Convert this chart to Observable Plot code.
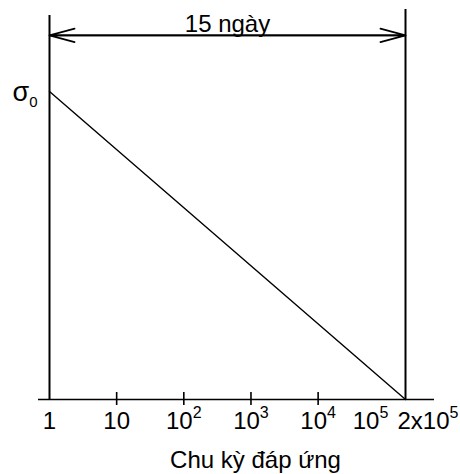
<!DOCTYPE html>
<html><head><meta charset="utf-8">
<script src="https://cdn.jsdelivr.net/npm/d3@7"></script>
<script src="https://cdn.jsdelivr.net/npm/@observablehq/plot@0.6"></script>
<style>body{margin:0;background:#fff} svg{display:block}</style>
</head><body><div id="chart"></div>
<script>
// ---- data ----
const periodBounds = [1, 2e5];          // cycles: start and end of the 15-day period
const periodLabel = "15 ngày";
const stressValues = [1, 0];            // σ0 at 1 cycle, 0 at 2x10^5 cycles
const stressLabel = "σ_0";
const tickValues = [1, 10, 1e2, 1e3, 1e4, 1e5, 2e5];
const tickLabels = ["1", "10", "10^2", "10^3", "10^4", "10^5", "2x10^5"];
const xTitle = "Chu kỳ đáp ứng";

// ---- layout ----
const yTop = 1.266;       // frame top in σ0 units
const arrowLevel = 1.182; // dimension arrow level
const F = "'Liberation Sans', Arial, Helvetica, sans-serif";
const FS = 24;
const SW = 1.6;
const headPx = 26;

const [x0, x1] = periodBounds;
const lineData = periodBounds.map((x, i) => ({x, y: stressValues[i]}));
const ticks = tickValues.map((v, i) => ({v, label: tickLabels[i]}));
const innerTicks = ticks.slice(1, -2);
const arrows = [{a: x0, b: x1, y: arrowLevel}, {a: x1, b: x0, y: arrowLevel}];

const plot = Plot.plot({
  width: 460, height: 474,
  marginLeft: 49, marginRight: 55, marginTop: 9, marginBottom: 75,
  x: {type: "log", domain: periodBounds, axis: null},
  y: {domain: [0, yTop], axis: null},
  style: {fontFamily: F, background: "#fff", color: "#000"},
  marks: [
    Plot.ruleY([0], {stroke: "#000", strokeWidth: SW, insetLeft: -11, insetRight: -29}),
    Plot.ruleX(innerTicks, {x: "v", y1: 0, y2: 0, insetTop: -7, insetBottom: -6, stroke: "#000", strokeWidth: SW}),
    Plot.ruleX([x0], {y1: 0, y2: yTop, insetBottom: -6, stroke: "#000", strokeWidth: 2}),
    Plot.ruleX([x1], {y1: 0, y2: yTop, stroke: "#000", strokeWidth: 2}),
    Plot.line(lineData, {x: "x", y: "y", stroke: "#000", strokeWidth: 1.4}),
    Plot.arrow(arrows, {x1: "a", x2: "b", y1: "y", y2: "y", stroke: "#000", strokeWidth: SW,
      headAngle: 30, headLength: headPx * 1.5 / SW}),
    Plot.text([{x: Math.sqrt(x0 * x1), y: arrowLevel}], {x: "x", y: "y", text: () => periodLabel,
      lineAnchor: "bottom", dy: -3, fontSize: FS, fill: "#000"}),
    Plot.text([{x: x0, y: stressValues[0]}], {x: "x", y: "y", text: () => stressLabel,
      textAnchor: "end", lineAnchor: "bottom", dx: -12, dy: 10, fontSize: 27, fill: "#000"}),
    Plot.text(ticks.slice(0, 5), {x: "v", y: () => 0, text: "label", lineAnchor: "bottom", dy: 29, fontSize: FS, fill: "#000"}),
    Plot.text(ticks.slice(5, 6), {x: "v", y: () => 0, text: "label", textAnchor: "end", lineAnchor: "bottom", dx: 3, dy: 29, fontSize: FS, fill: "#000"}),
    Plot.text(ticks.slice(6), {x: "v", y: () => 0, text: "label", textAnchor: "start", lineAnchor: "bottom", dx: -8, dy: 29, fontSize: FS, fill: "#000"}),
    Plot.text([xTitle], {frameAnchor: "bottom", text: d => d, lineAnchor: "bottom", dx: 28, dy: 68, fontSize: FS, fill: "#000"})
  ]
});

// superscripts / subscripts as real tspans
plot.querySelectorAll("text").forEach(t => {
  const s = t.textContent;
  if (s.includes("^")) {
    const [base, sup] = s.split("^");
    t.textContent = base;
    const ts = document.createElementNS("http://www.w3.org/2000/svg", "tspan");
    ts.setAttribute("dy", "-11");
    ts.setAttribute("font-size", "16");
    ts.textContent = sup;
    t.appendChild(ts);
  } else if (s.includes("_")) {
    const [base, sub] = s.split("_");
    t.textContent = base;
    const ts = document.createElementNS("http://www.w3.org/2000/svg", "tspan");
    ts.setAttribute("dy", "6");
    ts.setAttribute("font-size", "15");
    ts.textContent = sub;
    t.appendChild(ts);
  }
});
document.getElementById("chart").appendChild(plot);
</script></body></html>
